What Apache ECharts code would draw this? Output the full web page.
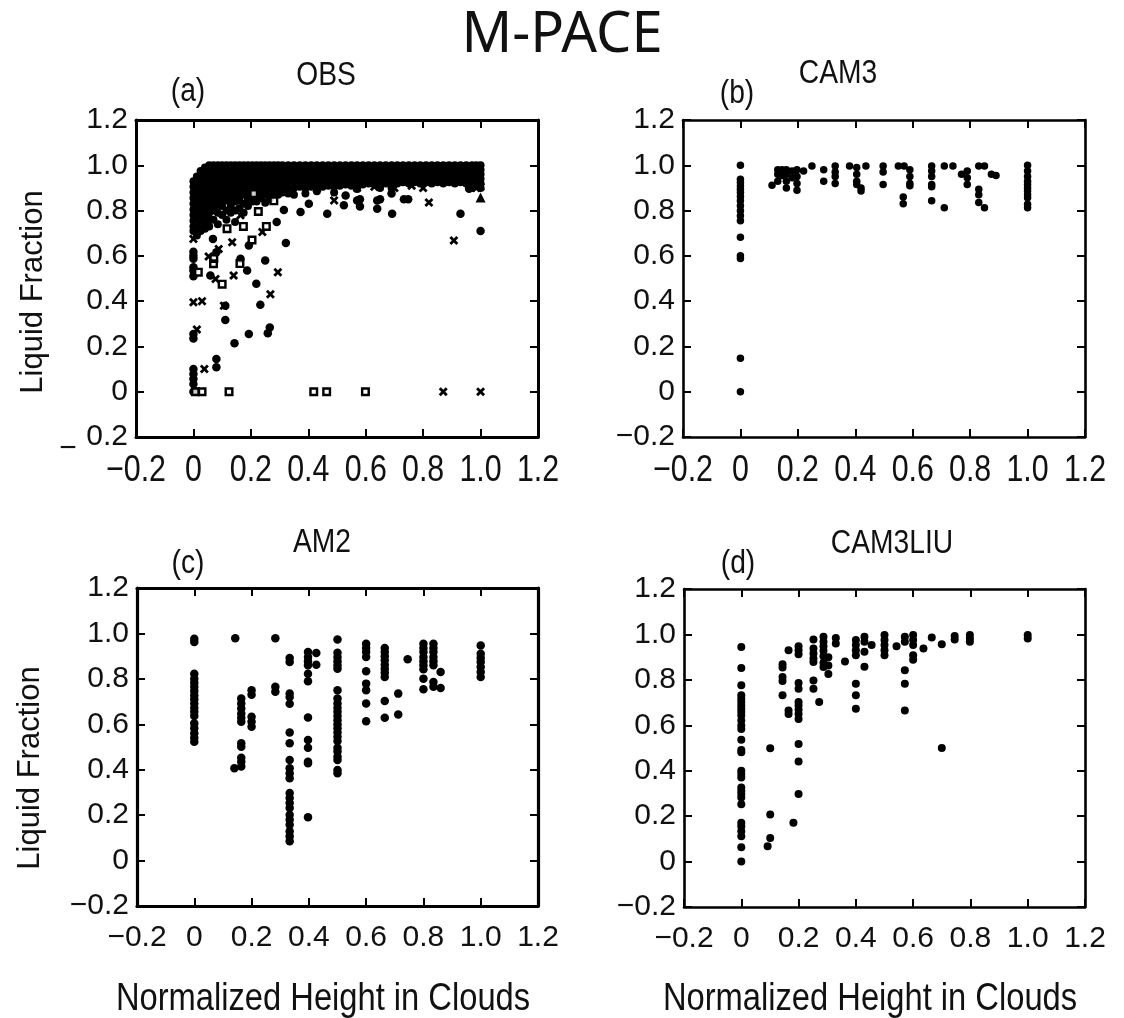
<!DOCTYPE html>
<html><head><meta charset="utf-8">
<script src="https://cdn.jsdelivr.net/npm/echarts@6/dist/echarts.min.js"></script>
<style>html,body{margin:0;padding:0;background:#fff}#c{width:1124px;height:1018px}</style>
</head><body><div id="c"></div>
<script>
// ---------- tick labels ----------
const tickMin = -0.2, tickMax = 1.2, tickStep = 0.2;
const topRowXTicks = [-0.2, 0, 0.2, 0.4, 0.6, 0.8, 1.0, 1.2];

// ---------- (a) OBS ----------
const obsDots = [[0,0.10],[0,0.078],[0,0.056],[0,0.034],[0,0],[0.012,0],[0.08,0.145],[0.08,0.108],[0,0.255],[0,0.235],
 [0.111,0.317],[0.143,0.214],[0.193,0.255],[0.259,0.258],[0.266,0.284],[0.111,0.38],[0.233,0.384],[0.219,0.477],[0.187,0.535],
 [0.25,0.579],[0,0.535],[0,0.51],[0,0.55],[0.059,0.513],[0.164,0.587],[0,0.618],[0,0.60],[0,0.587],[0.08,0.616],[0.322,0.657],
 [0.193,0.646],[0.068,0.675],[1.0,0.71],[0.93,0.786],[0.692,0.786],[0.466,0.786],[0.373,0.794],[0.315,0.803],[0.29,0.75],
 [0.402,0.83],[0.524,0.823],[0.58,0.85],[0.58,0.818],[0.64,0.845],[0.64,0.808],[0.69,0.875],[0.733,0.85],[0.748,0.85],
 [0.53,0.867],[0.57,0.845],[0.65,0.85],[0.96,0.896]];
const obsCross = [[0.038,0.10],[0.012,0.275],[0,0.395],[0.03,0.40],[0.106,0.38],[0.268,0.43],[0.294,0.528],[0.14,0.513],
 [0.077,0.498],[0.053,0.597],[0.088,0.63],[0.135,0.66],[0,0.675],[0.907,0.668],[0.82,0.836],[0.87,0],[1.0,0],[0.164,0.779],
 [0.24,0.705],[0.49,0.845],[0.43,0.897],[0.57,0.9],[0.63,0.905],[0.7,0.9],[0.76,0.91],[0.8,0.9],[0.985,0.9],[1.0,0.905]];
const obsSquare = [[0.007,0],[0.03,0],[0.124,0],[0.419,0],[0.464,0],[0.599,0],[0.1,0.475],[0.017,0.528],[0.162,0.566],
 [0.071,0.588],[0.07,0.565],[0.204,0.67],[0.117,0.72],[0.174,0.73],[0.254,0.73],[0.226,0.796],[0.28,0.843],[0.21,0.875]];
const obsTriangle = [[1.0,0.858]];
// dense band of observations, one entry per height column: [x, [liquid fractions]]
const obsBand = [
 [0.000,[0.93,0.905,0.88,0.855,0.83,0.805,0.78,0.755,0.73,0.71]],
 [0.012,[0.95,0.925,0.9,0.875,0.85,0.82,0.79,0.76,0.72,0.69]],
 [0.025,[0.975,0.95,0.925,0.9,0.875,0.85,0.825,0.8,0.77,0.74,0.71]],
 [0.040,[0.99,0.965,0.94,0.915,0.89,0.865,0.84,0.81,0.78,0.75,0.72]],
 [0.055,[1.0,0.975,0.95,0.925,0.9,0.875,0.85,0.82,0.79,0.76,0.73]],
 [0.070,[1.0,0.978,0.955,0.93,0.905,0.88,0.855,0.83,0.80,0.76]],
 [0.085,[1.0,0.978,0.955,0.93,0.905,0.88,0.855,0.825,0.79,0.74]],
 [0.100,[1.0,0.978,0.955,0.93,0.905,0.88,0.85,0.82,0.78]],
 [0.115,[1.0,0.978,0.955,0.93,0.905,0.875,0.845,0.80,0.76]],
 [0.130,[1.0,0.978,0.955,0.93,0.905,0.88,0.85,0.82,0.79]],
 [0.145,[1.0,0.978,0.955,0.93,0.90,0.87,0.84,0.80,0.75]],
 [0.160,[1.0,0.978,0.955,0.93,0.905,0.875,0.845,0.81]],
 [0.175,[1.0,0.978,0.955,0.93,0.90,0.87,0.83,0.79]],
 [0.190,[1.0,0.978,0.955,0.93,0.905,0.88,0.85,0.82]],
 [0.205,[1.0,0.978,0.955,0.93,0.905,0.875,0.84]],
 [0.220,[1.0,0.978,0.955,0.93,0.90,0.87,0.84]],
 [0.235,[1.0,0.978,0.955,0.93,0.905,0.88,0.855]],
 [0.250,[1.0,0.978,0.955,0.93,0.90,0.87,0.835]],
 [0.265,[1.0,0.978,0.955,0.93,0.905,0.88,0.85]],
 [0.280,[1.0,0.978,0.955,0.93,0.905,0.875]],
 [0.295,[1.0,0.978,0.955,0.93,0.90,0.87]],
 [0.310,[1.0,0.978,0.955,0.93,0.905,0.88]],
 [0.330,[1.0,0.978,0.955,0.93,0.905,0.875]],
 [0.350,[1.0,0.978,0.955,0.93,0.90,0.87]],
 [0.370,[1.0,0.978,0.955,0.93,0.905]],
 [0.390,[1.0,0.978,0.955,0.93,0.90,0.875]],
 [0.410,[1.0,0.978,0.955,0.93,0.905]],
 [0.430,[1.0,0.978,0.955,0.93,0.91,0.885]],
 [0.450,[1.0,0.978,0.955,0.93,0.905]],
 [0.470,[1.0,0.978,0.955,0.93,0.91]],
 [0.490,[1.0,0.978,0.955,0.93,0.905,0.88]],
 [0.510,[1.0,0.978,0.955,0.93,0.91]],
 [0.530,[1.0,0.978,0.955,0.935,0.915]],
 [0.550,[1.0,0.978,0.955,0.935,0.91]],
 [0.570,[1.0,0.978,0.955,0.935,0.915,0.895]],
 [0.590,[1.0,0.978,0.955,0.935,0.915]],
 [0.610,[1.0,0.98,0.96,0.94,0.92]],
 [0.630,[1.0,0.98,0.96,0.94,0.915]],
 [0.650,[1.0,0.98,0.96,0.94,0.92,0.9]],
 [0.670,[1.0,0.98,0.96,0.94,0.92]],
 [0.690,[1.0,0.98,0.96,0.94,0.915,0.9]],
 [0.710,[1.0,0.98,0.96,0.94,0.92]],
 [0.730,[1.0,0.98,0.96,0.94,0.925]],
 [0.750,[1.0,0.98,0.96,0.94,0.92]],
 [0.770,[1.0,0.98,0.96,0.94,0.925]],
 [0.790,[1.0,0.98,0.96,0.94,0.92]],
 [0.810,[1.0,0.98,0.96,0.94,0.925]],
 [0.830,[1.0,0.98,0.96,0.94,0.92]],
 [0.850,[1.0,0.98,0.96,0.94,0.925]],
 [0.870,[1.0,0.98,0.96,0.94,0.92]],
 [0.890,[1.0,0.98,0.96,0.94,0.925]],
 [0.910,[1.0,0.98,0.96,0.94,0.92]],
 [0.930,[1.0,0.98,0.96,0.94,0.925]],
 [0.950,[1.0,0.98,0.96,0.94,0.92]],
 [0.970,[1.0,0.98,0.96,0.94,0.92,0.9]],
 [0.985,[1.0,0.98,0.96,0.94,0.925]],
 [1.000,[1.0,0.98,0.96,0.94,0.92,0.9]]
];

// ---------- (b) CAM3 ----------
const cam3 = [[0,1.0],[0,0.938],[0,0.924],[0,0.909],[0,0.894],[0,0.88],[0,0.862],[0,0.843],[0,0.821],[0,0.799],[0,0.777],
 [0,0.755],[0,0.682],[0,0.6],[0,0.588],[0,0.148],[0,0],
 [0.11,0.912],[0.13,0.98],[0.13,0.96],[0.13,0.93],[0.145,0.98],[0.145,0.955],[0.16,0.98],[0.16,0.96],[0.16,0.93],[0.16,0.90],
 [0.18,0.975],[0.18,0.945],[0.197,0.98],[0.197,0.95],[0.197,0.92],[0.197,0.89],[0.22,0.975],[0.249,0.997],[0.29,0.98],[0.29,0.93],
 [0.33,0.997],[0.33,0.97],[0.33,0.95],[0.33,0.92],[0.38,0.997],[0.405,0.99],[0.405,0.96],[0.405,0.93],[0.405,0.915],[0.42,0.90],
 [0.42,0.886],[0.437,0.997],[0.497,0.997],[0.497,0.97],[0.497,0.915],[0.55,0.997],[0.57,0.997],[0.59,0.98],[0.59,0.95],[0.59,0.92],
 [0.59,0.91],[0.567,0.86],[0.567,0.83],[0.666,0.997],[0.666,0.975],[0.666,0.95],[0.666,0.915],[0.666,0.905],[0.666,0.843],
 [0.71,0.813],[0.71,0.997],[0.74,0.997],[0.77,0.96],[0.79,0.975],[0.79,0.945],[0.79,0.915],[0.83,0.997],[0.83,0.894],[0.83,0.87],
 [0.83,0.836],[0.85,0.997],[0.85,0.813],[0.874,0.96],[0.89,0.955],
 [1,1.0],[1,0.975],[1,0.95],[1,0.93],[1,0.915],[1,0.90],[1,0.886],[1,0.87],[1,0.857],[1,0.828],[1,0.813]];

// ---------- (c) AM2 ----------
const am2 = [[0,0.977],[0,0.962],[0,0.823],[0,0.80],[0,0.783],[0,0.765],[0,0.746],[0,0.728],[0,0.71],[0,0.691],[0,0.673],
 [0,0.655],[0,0.637],[0,0.604],[0,0.582],[0,0.56],[0,0.541],[0,0.523],
 [0.143,0.979],[0.283,0.979],[0.14,0.406],[0.164,0.414],[0.164,0.713],[0.164,0.691],[0.164,0.669],[0.164,0.647],[0.164,0.629],
 [0.164,0.611],[0.164,0.516],[0.164,0.501],[0.164,0.453],[0.164,0.435],[0.2,0.75],[0.2,0.73],[0.2,0.633],[0.2,0.611],[0.2,0.589],
 [0.283,0.765],[0.283,0.743],
 [0.333,0.892],[0.333,0.874],[0.333,0.735],[0.333,0.72],[0.333,0.69],[0.333,0.564],[0.333,0.516],[0.333,0.443],[0.333,0.406],
 [0.333,0.384],[0.333,0.362],[0.333,0.297],[0.333,0.275],[0.333,0.253],[0.333,0.231],[0.333,0.202],[0.333,0.18],[0.333,0.158],
 [0.333,0.129],[0.333,0.107],[0.333,0.085],
 [0.397,0.918],[0.397,0.896],[0.397,0.877],[0.397,0.86],[0.397,0.823],[0.397,0.789],[0.397,0.63],[0.397,0.531],[0.397,0.497],
 [0.397,0.435],[0.397,0.428],[0.397,0.191],[0.426,0.914],[0.426,0.862],
 [0.5,0.973],[0.5,0.915],[0.5,0.896],[0.5,0.877],[0.5,0.86],[0.5,0.845],[0.5,0.75],[0.5,0.713],[0.5,0.691],[0.5,0.673],[0.5,0.655],
 [0.5,0.637],[0.5,0.618],[0.5,0.6],[0.5,0.582],[0.5,0.564],[0.5,0.545],[0.5,0.526],[0.5,0.497],[0.5,0.48],[0.5,0.458],[0.5,0.443],
 [0.5,0.399],[0.5,0.384],
 [0.6,0.955],[0.6,0.936],[0.6,0.918],[0.6,0.896],[0.6,0.833],[0.6,0.779],[0.6,0.75],[0.6,0.691],[0.6,0.613],
 [0.665,0.936],[0.665,0.918],[0.665,0.9],[0.665,0.882],[0.665,0.862],[0.665,0.845],[0.665,0.827],[0.665,0.808],[0.665,0.702],
 [0.665,0.629],[0.712,0.735],[0.712,0.643],[0.745,0.886],
 [0.8,0.955],[0.8,0.936],[0.8,0.918],[0.8,0.896],[0.8,0.877],[0.8,0.86],[0.8,0.842],[0.8,0.801],[0.8,0.754],
 [0.835,0.955],[0.835,0.936],[0.835,0.918],[0.835,0.896],[0.835,0.877],[0.835,0.86],[0.835,0.786],[0.835,0.765],
 [0.86,0.83],[0.86,0.76],
 [1,0.947],[1,0.911],[1,0.892],[1,0.874],[1,0.852],[1,0.83],[1,0.808]];

// ---------- (d) CAM3LIU ----------
const cam3liu = [[0,0.945],[0,0.852],[0,0.776],[0,0.732],[0,0.717],[0,0.702],[0,0.687],[0,0.673],[0,0.658],[0,0.643],[0,0.621],
 [0,0.599],[0,0.584],[0,0.536],[0,0.491],[0,0.481],[0,0.4],[0,0.385],[0,0.37],[0,0.326],[0,0.311],[0,0.297],[0,0.282],[0,0.252],
 [0,0.171],[0,0.156],[0,0.134],[0,0.112],[0,0.063],[0,0],
 [0.092,0.068],[0.101,0.499],[0.101,0.207],[0.101,0.104],
 [0.144,0.869],[0.144,0.854],[0.144,0.813],[0.144,0.795],[0.144,0.732],[0.165,0.93],[0.165,0.665],[0.165,0.65],[0.182,0.171],
 [0.2,0.948],[0.2,0.93],[0.2,0.913],[0.2,0.786],[0.2,0.761],[0.2,0.702],[0.2,0.687],[0.2,0.668],[0.2,0.65],[0.2,0.628],[0.2,0.518],
 [0.2,0.441],[0.2,0.297],
 [0.252,0.978],[0.252,0.938],[0.252,0.916],[0.252,0.894],[0.252,0.879],[0.252,0.797],[0.252,0.761],[0.272,0.702],
 [0.287,0.99],[0.287,0.968],[0.287,0.948],[0.287,0.928],[0.287,0.904],[0.287,0.875],[0.287,0.857],[0.304,0.9],[0.304,0.863],
 [0.304,0.826],[0.33,0.984],[0.33,0.96],[0.362,0.881],
 [0.4,0.975],[0.4,0.953],[0.4,0.93],[0.4,0.908],[0.4,0.783],[0.4,0.732],[0.4,0.673],[0.43,0.99],[0.43,0.968],[0.43,0.924],
 [0.43,0.858],[0.455,0.953],[0.5,0.997],[0.5,0.975],[0.5,0.953],[0.5,0.93],[0.5,0.908],[0.542,0.948],
 [0.571,0.99],[0.571,0.968],[0.571,0.842],[0.571,0.783],[0.571,0.665],[0.6,0.997],[0.6,0.975],[0.6,0.953],[0.6,0.908],[0.6,0.889],
 [0.636,0.938],[0.665,0.987],[0.7,0.957],[0.7,0.5],[0.745,0.993],[0.745,0.978],[0.798,0.997],[0.798,0.982],[0.798,0.968],
 [1,0.997],[1,0.982]];

// ---------- build ----------
const obsBandPts = [];
obsBand.forEach(function(col){ col[1].forEach(function(y){ obsBandPts.push([col[0], y]); }); });

const SANS = '"Liberation Sans",Arial,Helvetica,sans-serif';
const crossPath = 'path://M0,2.2L2.2,0L5,2.8L7.8,0L10,2.2L7.2,5L10,7.8L7.8,10L5,7.2L2.2,10L0,7.8L2.8,5Z';
const hollowSquarePath = 'path://M0,0H10V10H0Z M2.7,2.7V7.3H7.3V2.7Z';

function fmt(v){ if (Math.abs(v) < 1e-9) return '0'; return (v < 0 ? '\u2212' : '') + Math.abs(v).toFixed(1); }
function fmtAy(v){ if (v < -0.1) return '0.2'; return fmt(v); }

const grids = [
 {left:136, top:120, width:402, height:317},
 {left:683, top:120, width:402, height:317},
 {left:137, top:588, width:401, height:318},
 {left:684, top:589, width:401, height:318}
];
const frameW = [3, 2.6, 3.2, 2.6];

const xAxes = [], yAxes = [];
grids.forEach(function(g, i){
  const lw = frameW[i];
  const base = {type:'value', min:tickMin, max:tickMax, interval:tickStep, gridIndex:i,
    splitLine:{show:false},
    axisLine:{show:true, onZero:false, lineStyle:{color:'#000', width:lw}},
    axisTick:{show:true, inside:true, length:8, lineStyle:{color:'#000', width:2}}};
  // top row: bottom labels are drawn as condensed text below (positions from the axis scale)
  xAxes.push(Object.assign({}, base, {position:'bottom',
    axisLabel:{show: i >= 2, formatter:fmt, color:'#111', fontFamily:SANS, fontSize:30,
      margin:17, showMinLabel:true, showMaxLabel:true, hideOverlap:false}}));
  xAxes.push(Object.assign({}, base, {position:'top', axisLabel:{show:false}}));
  yAxes.push(Object.assign({}, base, {position:'left',
    axisLabel:{show:true, formatter: i === 0 ? fmtAy : fmt, color:'#111', fontFamily:SANS, fontSize:30,
      margin:8, showMinLabel:true, showMaxLabel:true, hideOverlap:false}}));
  yAxes.push(Object.assign({}, base, {position:'right', axisLabel:{show:false}}));
});

function sc(i, data, opts){
  return Object.assign({type:'scatter', xAxisIndex:2*i, yAxisIndex:2*i, data:data, symbol:'circle', symbolSize:8,
    itemStyle:{color:'#000', opacity:1}, silent:true, animation:false, emphasis:{disabled:true}}, opts || {});
}

const series = [
  sc(0, obsBandPts, {symbolSize:8}),
  sc(0, obsDots, {symbolSize:8.5}),
  sc(0, obsCross, {symbol:crossPath, symbolSize:9}),
  sc(0, obsSquare, {symbol:'rect', symbolSize:6, itemStyle:{color:'#fff', borderWidth:0}}),
  sc(0, obsSquare, {symbol:hollowSquarePath, symbolSize:9}),
  sc(0, obsTriangle, {symbol:'triangle', symbolSize:10}),
  sc(1, cam3, {symbolSize:7.5}),
  sc(2, am2, {symbolSize:8.5}),
  sc(3, cam3liu, {symbolSize:8})
];

function txt(t, x, y, font, size, extra){
  return Object.assign({type:'text', x:x, y:y, silent:true,
    style:{text:t, fontFamily:font, fontSize:size, fill:'#111', align:'center', verticalAlign:'middle'}}, extra || {});
}

const chart = echarts.init(document.getElementById('c'), null, {renderer:'canvas'});
chart.setOption({animation:false, backgroundColor:'#fff', grid:grids, xAxis:xAxes, yAxis:yAxes, series:series});

const graphic = [
  txt('M-PACE', 562, 36, '"Noto Sans",sans-serif', 56),
  txt('(a)', 188, 92, SANS, 34, {scaleX:0.83}), txt('OBS', 326, 76, SANS, 34, {scaleX:0.83}),
  txt('(b)', 737, 94, SANS, 34, {scaleX:0.83}), txt('CAM3', 838, 74, SANS, 34, {scaleX:0.83}),
  txt('(c)', 188, 564, SANS, 34, {scaleX:0.83}), txt('AM2', 322, 543, SANS, 34, {scaleX:0.83}),
  txt('(d)', 738, 564, SANS, 34, {scaleX:0.83}), txt('CAM3LIU', 892, 544, SANS, 34, {scaleX:0.83}),
  txt('Liquid Fraction', 33, 292, SANS, 31, {rotation: Math.PI/2}),
  txt('Liquid Fraction', 30, 768, SANS, 31, {rotation: Math.PI/2}),
  txt('Normalized Height in Clouds', 323, 1000, SANS, 38, {scaleX:0.86}),
  txt('Normalized Height in Clouds', 870, 1000, SANS, 38, {scaleX:0.86}),
  txt('\u2212', 68, 449, SANS, 30)
];
// condensed tick labels for the top row, placed with the axis' own scale
[0, 1].forEach(function(i){
  const yPix = grids[i].top + grids[i].height + 34;
  topRowXTicks.forEach(function(v){
    const px = chart.convertToPixel({xAxisIndex: 2*i}, v);
    graphic.push(txt(fmt(v), px, yPix, SANS, 37, {scaleX:0.82}));
  });
});
chart.setOption({graphic: graphic});
</script></body></html>
